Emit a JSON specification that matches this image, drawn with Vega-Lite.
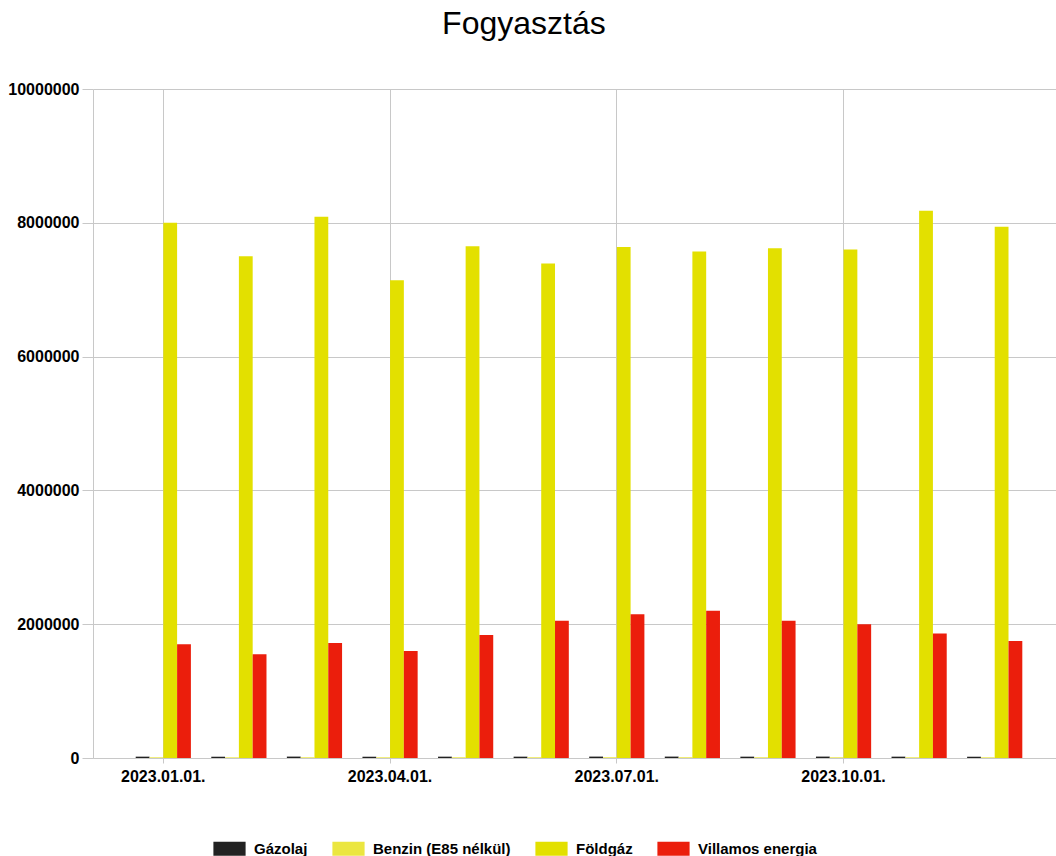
{
  "$schema": "https://vega.github.io/schema/vega-lite/v6.json",
  "autosize": {"type": "none"},
  "width": 963,
  "height": 669,
  "padding": {"left": 93, "top": 89, "right": 0, "bottom": 98},
  "background": "white",
  "config": {
    "font": "Liberation Sans",
    "view": {"stroke": null}
  },
  "title": {
    "text": "Fogyasztás",
    "fontSize": 32,
    "fontWeight": "normal",
    "font": "Liberation Sans",
    "color": "#000000",
    "anchor": "middle",
    "frame": "bounds",
    "baseline": "alphabetic",
    "offset": 15,
    "dx": -8
  },
  "data": {
    "values": [
      {"month": "2023.01.01.", "series": "Gázolaj", "value": 20000},
      {"month": "2023.01.01.", "series": "Benzin (E85 nélkül)", "value": 10000},
      {"month": "2023.01.01.", "series": "Földgáz", "value": 8000000},
      {"month": "2023.01.01.", "series": "Villamos energia", "value": 1700000},
      {"month": "2023.02.01.", "series": "Gázolaj", "value": 19000},
      {"month": "2023.02.01.", "series": "Benzin (E85 nélkül)", "value": 9500},
      {"month": "2023.02.01.", "series": "Földgáz", "value": 7500000},
      {"month": "2023.02.01.", "series": "Villamos energia", "value": 1550000},
      {"month": "2023.03.01.", "series": "Gázolaj", "value": 21000},
      {"month": "2023.03.01.", "series": "Benzin (E85 nélkül)", "value": 10500},
      {"month": "2023.03.01.", "series": "Földgáz", "value": 8090000},
      {"month": "2023.03.01.", "series": "Villamos energia", "value": 1720000},
      {"month": "2023.04.01.", "series": "Gázolaj", "value": 19000},
      {"month": "2023.04.01.", "series": "Benzin (E85 nélkül)", "value": 10000},
      {"month": "2023.04.01.", "series": "Földgáz", "value": 7140000},
      {"month": "2023.04.01.", "series": "Villamos energia", "value": 1600000},
      {"month": "2023.05.01.", "series": "Gázolaj", "value": 20000},
      {"month": "2023.05.01.", "series": "Benzin (E85 nélkül)", "value": 10500},
      {"month": "2023.05.01.", "series": "Földgáz", "value": 7650000},
      {"month": "2023.05.01.", "series": "Villamos energia", "value": 1840000},
      {"month": "2023.06.01.", "series": "Gázolaj", "value": 20000},
      {"month": "2023.06.01.", "series": "Benzin (E85 nélkül)", "value": 10500},
      {"month": "2023.06.01.", "series": "Földgáz", "value": 7390000},
      {"month": "2023.06.01.", "series": "Villamos energia", "value": 2050000},
      {"month": "2023.07.01.", "series": "Gázolaj", "value": 21000},
      {"month": "2023.07.01.", "series": "Benzin (E85 nélkül)", "value": 11000},
      {"month": "2023.07.01.", "series": "Földgáz", "value": 7640000},
      {"month": "2023.07.01.", "series": "Villamos energia", "value": 2150000},
      {"month": "2023.08.01.", "series": "Gázolaj", "value": 21000},
      {"month": "2023.08.01.", "series": "Benzin (E85 nélkül)", "value": 11000},
      {"month": "2023.08.01.", "series": "Földgáz", "value": 7570000},
      {"month": "2023.08.01.", "series": "Villamos energia", "value": 2200000},
      {"month": "2023.09.01.", "series": "Gázolaj", "value": 20000},
      {"month": "2023.09.01.", "series": "Benzin (E85 nélkül)", "value": 10500},
      {"month": "2023.09.01.", "series": "Földgáz", "value": 7620000},
      {"month": "2023.09.01.", "series": "Villamos energia", "value": 2050000},
      {"month": "2023.10.01.", "series": "Gázolaj", "value": 21000},
      {"month": "2023.10.01.", "series": "Benzin (E85 nélkül)", "value": 10500},
      {"month": "2023.10.01.", "series": "Földgáz", "value": 7600000},
      {"month": "2023.10.01.", "series": "Villamos energia", "value": 2000000},
      {"month": "2023.11.01.", "series": "Gázolaj", "value": 20000},
      {"month": "2023.11.01.", "series": "Benzin (E85 nélkül)", "value": 10000},
      {"month": "2023.11.01.", "series": "Földgáz", "value": 8180000},
      {"month": "2023.11.01.", "series": "Villamos energia", "value": 1860000},
      {"month": "2023.12.01.", "series": "Gázolaj", "value": 19000},
      {"month": "2023.12.01.", "series": "Benzin (E85 nélkül)", "value": 10000},
      {"month": "2023.12.01.", "series": "Földgáz", "value": 7940000},
      {"month": "2023.12.01.", "series": "Villamos energia", "value": 1750000}
    ]
  },
  "mark": {"type": "bar"},
  "encoding": {
    "x": {
      "field": "month",
      "type": "ordinal",
      "sort": null,
      "scale": {"paddingInner": 0.2697, "paddingOuter": 0.5054, "align": 0.559},
      "axis": {
        "title": null,
        "bandPosition": 0.5,
        "labelAngle": 0,
        "labelExpr": "indexof(['2023.01.01.', '2023.04.01.', '2023.07.01.', '2023.10.01.'], datum.label) >= 0 ? datum.label : ''",
        "gridOpacity": {
          "condition": {"test": "indexof(['2023.01.01.', '2023.04.01.', '2023.07.01.', '2023.10.01.'], datum.value) >= 0", "value": 1},
          "value": 0
        },
        "tickOpacity": {
          "condition": {"test": "indexof(['2023.01.01.', '2023.04.01.', '2023.07.01.', '2023.10.01.'], datum.value) >= 0", "value": 1},
          "value": 0
        },
        "labelFont": "Liberation Sans",
        "labelFontSize": 16,
        "labelFontWeight": "bold",
        "labelColor": "#000000",
        "labelPadding": 5,
        "tickSize": 5,
        "tickColor": "#c8c8c8",
        "domainColor": "#c8c8c8",
        "gridColor": "#c8c8c8",
        "grid": true,
        "labelOverlap": false
      }
    },
    "xOffset": {
      "field": "series",
      "type": "nominal",
      "sort": ["Gázolaj", "Benzin (E85 nélkül)", "Földgáz", "Villamos energia"],
      "scale": {"paddingInner": 0, "paddingOuter": 0}
    },
    "y": {
      "field": "value",
      "type": "quantitative",
      "stack": null,
      "scale": {"domain": [0, 10000000], "nice": false},
      "axis": {
        "title": null,
        "values": [0, 2000000, 4000000, 6000000, 8000000, 10000000],
        "format": "d",
        "labelFont": "Liberation Sans",
        "labelFontSize": 16,
        "labelFontWeight": "bold",
        "labelColor": "#000000",
        "labelPadding": 3,
        "tickSize": 11,
        "tickColor": "#c8c8c8",
        "domainColor": "#c8c8c8",
        "gridColor": "#c8c8c8",
        "grid": true
      }
    },
    "color": {
      "field": "series",
      "type": "nominal",
      "sort": ["Gázolaj", "Benzin (E85 nélkül)", "Földgáz", "Villamos energia"],
      "scale": {
        "domain": ["Gázolaj", "Benzin (E85 nélkül)", "Földgáz", "Villamos energia"],
        "range": ["#222222", "#ebe640", "#e3e000", "#eb1e0c"]
      },
      "legend": {
        "title": null,
        "orient": "none",
        "direction": "horizontal",
        "legendX": 129,
        "legendY": 752,
        "padding": 0,
        "symbolType": "M-2.3,-1H2.3V1H-2.3Z",
        "symbolSize": 196,
        "symbolStrokeWidth": 0,
        "symbolOpacity": 1,
        "labelFont": "Liberation Sans",
        "labelFontSize": 15,
        "labelFontWeight": "bold",
        "labelColor": "#000000",
        "labelOffset": 17,
        "columnPadding": 24,
        "labelLimit": 300
      }
    }
  }
}
